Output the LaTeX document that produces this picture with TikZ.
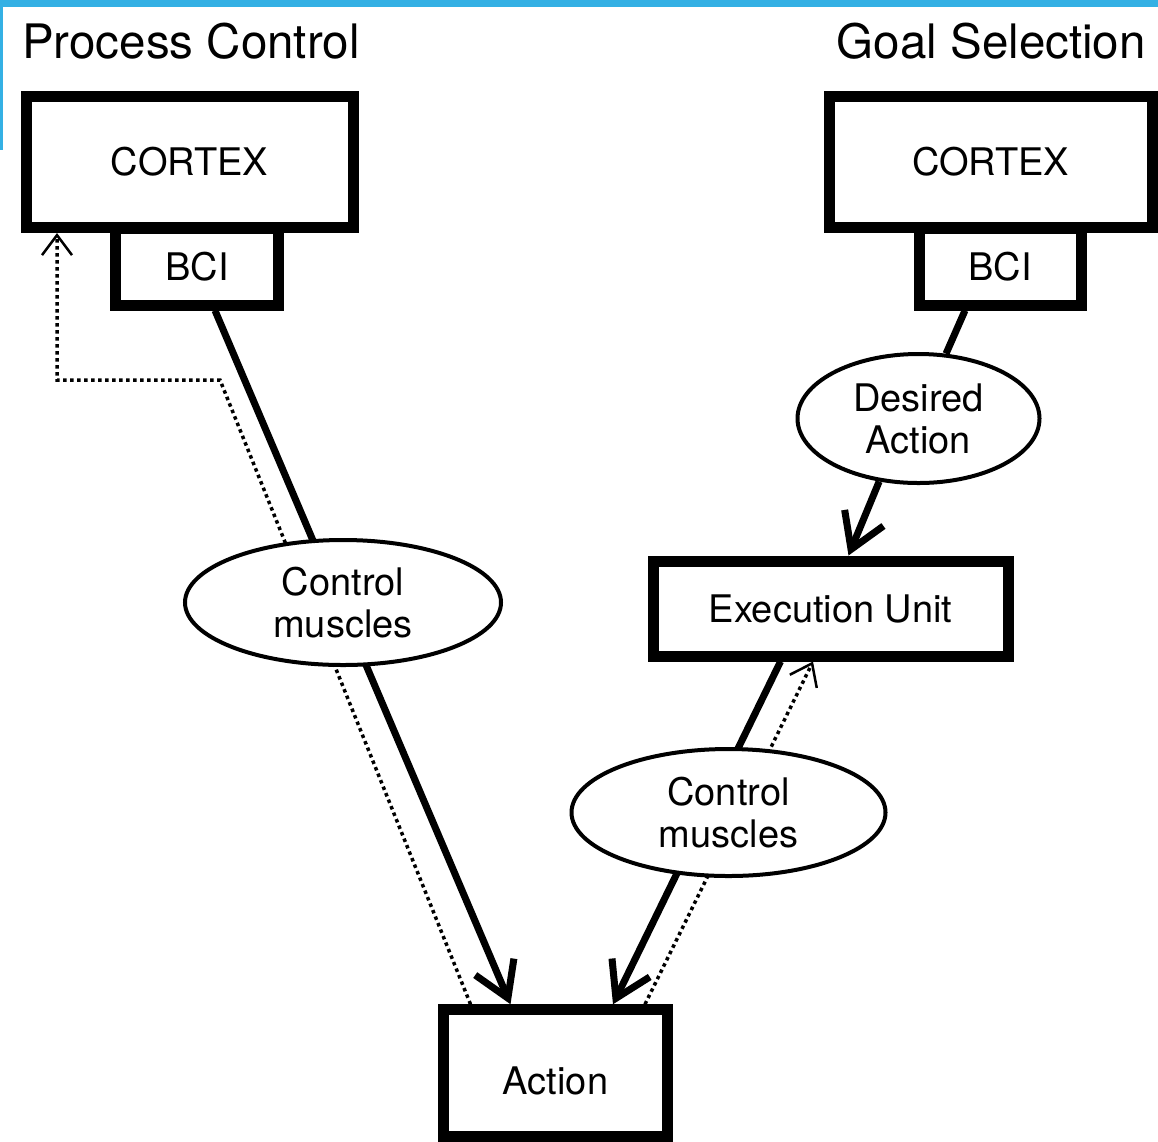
\documentclass[tikz,border=0pt]{standalone}
\usepackage{fontspec}
\setmainfont{TeX Gyre Heros}
\usetikzlibrary{arrows.meta,calc,shapes.geometric,backgrounds}
\definecolor{frameblue}{RGB}{52,176,228}

\begin{document}
\begin{tikzpicture}[x=1pt,y=-1pt,
  box node/.style={rectangle,draw,line width=11pt,fill=white,inner sep=0pt,font=\fontsize{38}{42}\selectfont},
  oval node/.style={ellipse,draw,line width=4pt,fill=white,inner sep=0pt,align=center,font=\fontsize{38}{42}\selectfont},
  head text/.style={inner sep=0pt,font=\fontsize{47.5}{52}\selectfont},
  link/.style={line width=7pt},
  big arrow/.style={link,-{Straight Barb[length=34pt,width=42pt]}},
  back arrow/.style={line width=3.5pt,dash pattern=on 3.5pt off 3.5pt,-{Straight Barb[length=20pt,width=30pt,line width=2.5pt]}}]

\useasboundingbox (0,0) rectangle (1158,1141);
\fill[frameblue] (0,0) rectangle (1158,7);
\fill[frameblue] (0,0) rectangle (3,150);

\node[head text,anchor=base west](pcT) at (22,58) {Process Control};
\node[head text,anchor=base east](gsT) at (1146,58) {Goal Selection};

\node[box node,minimum width=327pt,minimum height=131.5pt](ctxL) at (189.5,161.75) {CORTEX};
\node[box node,minimum width=163pt,minimum height=77pt](bciL) at (197,266.5) {BCI};
\node[box node,minimum width=323.5pt,minimum height=131.5pt](ctxR) at (990.75,161.75) {CORTEX};
\node[box node,minimum width=162pt,minimum height=77pt](bciR) at (1000,266.5) {BCI};
\node[box node,minimum width=355pt,minimum height=95pt](exec) at (830.5,608.5) {Execution Unit};
\node[box node,minimum width=224pt,minimum height=126.5pt,text height=43pt](act) at (555.5,1073) {Action};

\node[oval node,minimum width=316pt,minimum height=125pt](musL) at (343,602.5) {Control\\muscles};
\node[oval node,minimum width=314pt,minimum height=127pt](musR) at (728.5,812.5) {Control\\muscles};
\node[oval node,minimum width=242pt,minimum height=129pt](want) at (918.5,418.5) {Desired\\Action};

\coordinate (fbA) at (220,380);
\coordinate (fbB) at (57,380);

% lines that run behind the ovals
\begin{pgfonlayer}{background}
\draw[big arrow] ($(bciL.south)+(18,0)$) -- ($(act.north)+(-45,0)$);
\draw[big arrow] ($(exec.south)+(-50,0)$) -- ($(act.north)+(57.5,0)$);
\draw[back arrow] ($(act.north)+(-85,0)$) -- (fbA) -- (fbB) -- (fbB |- ctxL.south);
\draw[back arrow] ($(act.north)+(89.5,0)$) -- ($(exec.south)+(-17.5,0)$);
\end{pgfonlayer}

\draw[link] ($(bciR.south)+(-35,0)$) -- (want.67);
\draw[big arrow] (want.238) -- ($(exec.north)+(18,0)$);

\end{tikzpicture}
\end{document}
